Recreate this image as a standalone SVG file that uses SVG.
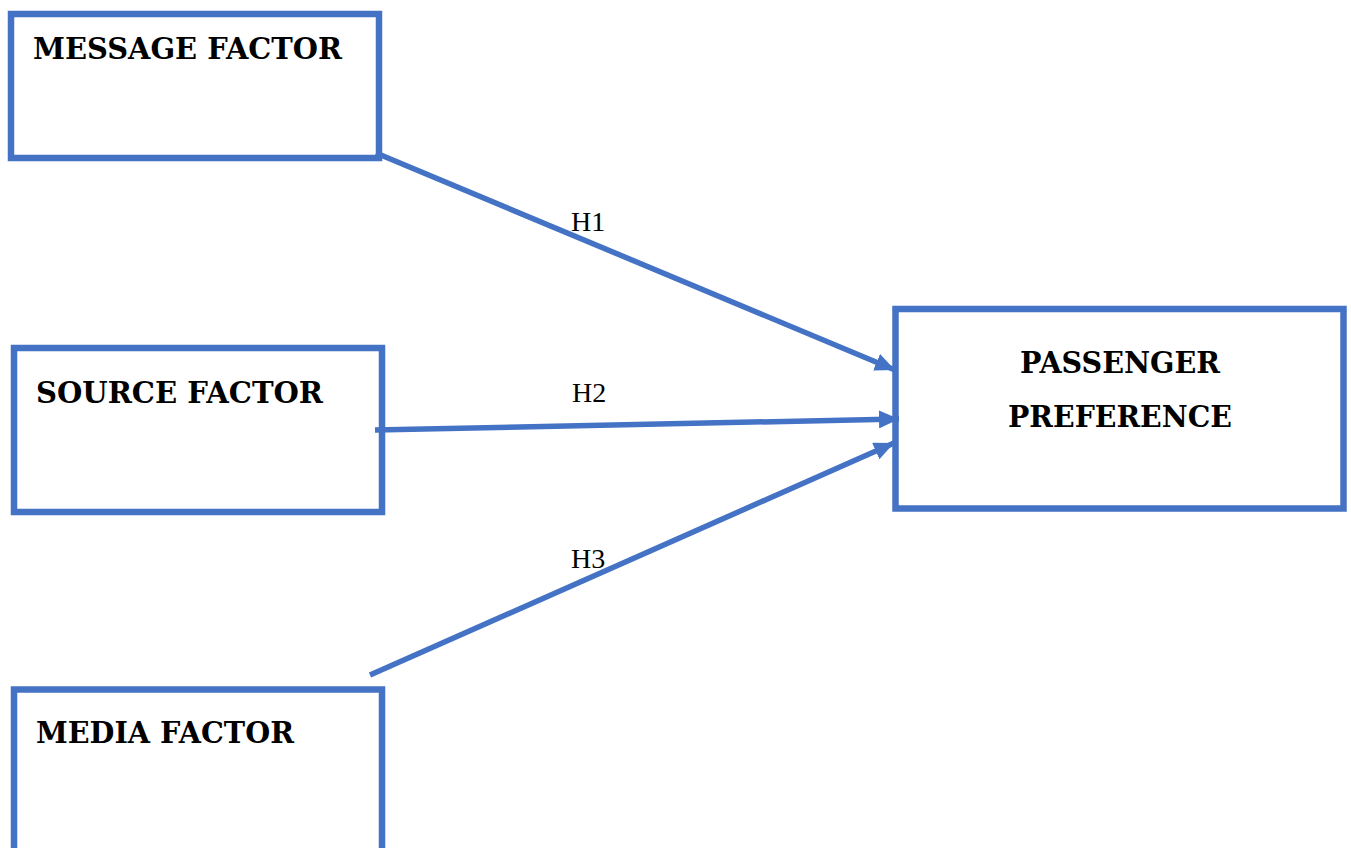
<svg xmlns="http://www.w3.org/2000/svg" width="1351" height="848" viewBox="0 0 1351 848">
<style>
.box{fill:#ffffff;stroke:#4472C4;stroke-width:6.5}
.lbl{font-family:"DejaVu Serif","Liberation Serif",serif;font-weight:bold;font-size:29px;fill:#000}
.h{font-family:"Liberation Serif",serif;font-size:28px;fill:#000}
.con{stroke:#4472C4;stroke-width:5.5;fill:none}
</style>
<defs>
<marker id="ah" markerUnits="userSpaceOnUse" markerWidth="20" markerHeight="18" viewBox="0 0 20 18" refX="20" refY="9" orient="auto">
<path d="M0,0 L20,9 L0,18 Z" fill="#4472C4"/>
</marker>
</defs>
<rect width="1351" height="848" fill="#ffffff"/>
<g id="message">
<rect class="box" x="11" y="14" width="368" height="144"/>
<text class="lbl" x="33" y="59" textLength="309" lengthAdjust="spacingAndGlyphs">MESSAGE FACTOR</text>
</g>
<g id="source">
<rect class="box" x="14" y="348" width="368" height="164"/>
<text class="lbl" x="36" y="403" textLength="287" lengthAdjust="spacingAndGlyphs">SOURCE FACTOR</text>
</g>
<g id="media">
<rect class="box" x="14" y="689.5" width="368" height="200"/>
<text class="lbl" x="36" y="743" textLength="258" lengthAdjust="spacingAndGlyphs">MEDIA FACTOR</text>
</g>
<g id="passenger">
<rect class="box" x="895.5" y="309" width="448" height="199.5"/>
<text class="lbl" x="1020" y="373" textLength="200" lengthAdjust="spacingAndGlyphs">PASSENGER</text>
<text class="lbl" x="1008" y="427" textLength="224" lengthAdjust="spacingAndGlyphs">PREFERENCE</text>
</g>
<g id="connectors">
<line class="con" x1="376" y1="153" x2="895" y2="370" marker-end="url(#ah)"/>
<line class="con" x1="375" y1="430" x2="899" y2="419" marker-end="url(#ah)"/>
<line class="con" x1="370" y1="675" x2="894" y2="443" marker-end="url(#ah)"/>
<text class="h" x="571" y="231">H1</text>
<text class="h" x="572" y="402">H2</text>
<text class="h" x="571" y="568">H3</text>
</g>
</svg>
